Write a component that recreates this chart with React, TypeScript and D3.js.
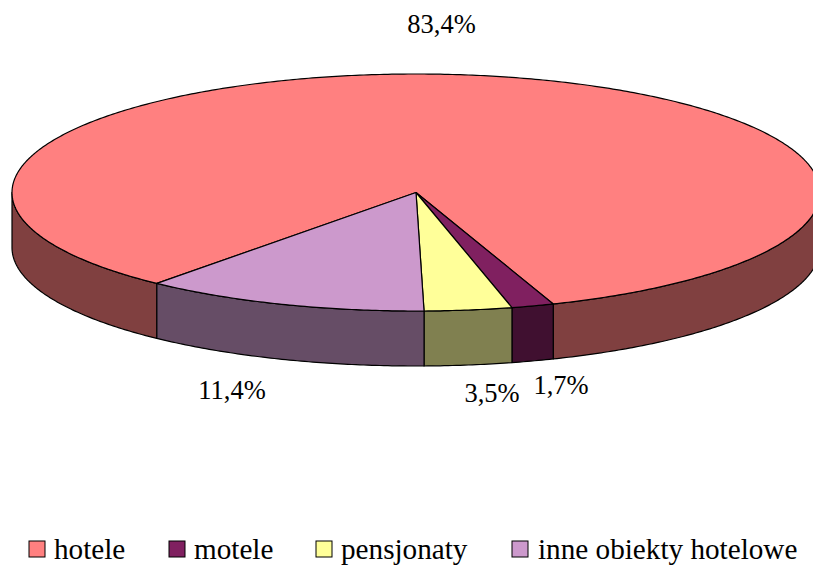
import React from "react";
import * as d3 from "d3";

const categories = ["hotele", "motele", "pensjonaty", "inne obiekty hotelowe"];
const values = [83.4, 1.7, 3.5, 11.4];
const labels = ["83,4%", "1,7%", "3,5%", "11,4%"];
const topColors = ["#FF8080", "#802060", "#FFFF99", "#CC99CC"];
const sideColors = ["#804040", "#401030", "#808050", "#664D66"];
const labelX = [441.5, 561, 492, 232];
const labelY = [33, 394, 402, 399];
const legendBoxX = [29, 169, 316, 512];
const legendTextX = [54, 194, 341, 538];

const cx = 416, cy = 192.5, rx = 404, ry = 118.5, depth = 55;
const TAU = Math.PI * 2;
const start = (219.9 / 360) * TAU;

const px = d3.scaleLinear().domain([-1, 1]).range([cx - rx, cx + rx]);
const py = d3.scaleLinear().domain([-1, 1]).range([cy - ry, cy + ry]);
const pie = d3.pie<number>().sort(null).startAngle(start).endAngle(start + TAU);
const arcs = pie(values);
const line = d3.line<[number, number]>();

function rim(a0: number, a1: number, dy = 0): [number, number][] {
  const n = Math.max(2, Math.ceil(Math.abs(a1 - a0) / 0.01));
  return d3.range(n + 1).map((i) => {
    const a = a0 + ((a1 - a0) * i) / n;
    return [px(Math.sin(a)), py(-Math.cos(a)) + dy] as [number, number];
  });
}

function topPath(a0: number, a1: number) {
  return line([[px(0), py(0)], ...rim(a0, a1)])! + "Z";
}

// Visible wall pieces lie between 90° and 270° (the front of the disc).
function walls(a0: number, a1: number): [number, number][] {
  const out: [number, number][] = [];
  for (const k of [0, 1]) {
    const lo = Math.max(a0, Math.PI / 2 + k * TAU);
    const hi = Math.min(a1, (3 * Math.PI) / 2 + k * TAU);
    if (hi > lo) out.push([lo, hi]);
  }
  return out;
}

function wallPath(a0: number, a1: number) {
  return line([...rim(a0, a1), ...rim(a1, a0, depth)])! + "Z";
}

export default function App() {
  const font = "'Liberation Serif', serif";
  return (
    <svg
      width={813}
      height={565}
      style={{ position: "absolute", left: 0, top: 0, background: "#fff" }}
      fontFamily={font}
    >
      {arcs.map((d, i) =>
        walls(d.startAngle, d.endAngle).map(([a, b], j) => (
          <path key={`w${i}-${j}`} d={wallPath(a, b)} fill={sideColors[i]} stroke="#000" strokeWidth={1.2} strokeLinejoin="round" />
        ))
      )}
      {arcs.map((d, i) => (
        <path key={`t${i}`} d={topPath(d.startAngle, d.endAngle)} fill={topColors[i]} stroke="#000" strokeWidth={1.2} strokeLinejoin="round" />
      ))}
      {labels.map((t, i) => (
        <text key={t} x={labelX[i]} y={labelY[i]} textAnchor="middle" fontSize={26.5} fill="#000">
          {t}
        </text>
      ))}
      {categories.map((c, i) => (
        <g key={c}>
          <rect x={legendBoxX[i]} y={541} width={16} height={16} fill={topColors[i]} stroke="#000" strokeWidth={1} />
          <text x={legendTextX[i]} y={559} fontSize={29.2} fill="#000">
            {c}
          </text>
        </g>
      ))}
    </svg>
  );
}
